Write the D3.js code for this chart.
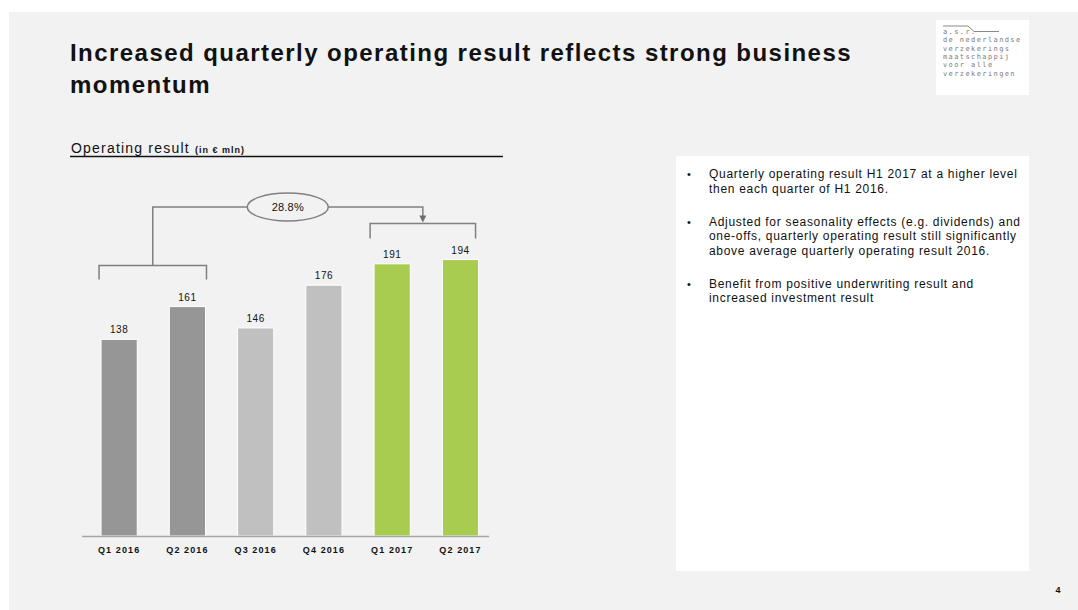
<!DOCTYPE html>
<html>
<head>
<meta charset="utf-8">
<script src="https://cdn.jsdelivr.net/npm/d3@7"></script>
<style>
  html, body { margin: 0; padding: 0; background: #ffffff; }
  svg { display: block; font-family: "Liberation Sans", Arial, sans-serif; }
</style>
</head>
<body>
<svg id="slide" width="1078" height="610"></svg>
<script>
// Quarterly operating result, € mln
const quarters = ["Q1 2016", "Q2 2016", "Q3 2016", "Q4 2016", "Q1 2017", "Q2 2017"];
const operatingResult = [138, 161, 146, 176, 191, 194];
const barGroup = ["h1-2016", "h1-2016", "h2-2016", "h2-2016", "h1-2017", "h1-2017"];
const growthLabel = "28.8%";

const titleLines = [
  "Increased quarterly operating result reflects strong business",
  "momentum"
];
const bulletParagraphs = [
  ["Quarterly operating result H1 2017 at a higher level", "then each quarter of H1 2016."],
  ["Adjusted for seasonality effects (e.g. dividends) and", "one-offs, quarterly operating result still significantly", "above average quarterly operating result 2016."],
  ["Benefit from positive underwriting result and", "increased investment result"]
];
const logoLines = ["a.s.r.", "de nederlandse", "verzekerings", "maatschappij", "voor alle", "verzekeringen"];

const svg = d3.select("#slide");

// slide background
svg.append("rect").attr("x", 9).attr("y", 12).attr("width", 1069).attr("height", 598).attr("fill", "#f2f2f2");

// title
const title = svg.append("g");
title.selectAll("text").data(titleLines).join("text")
  .attr("x", 70).attr("y", (d, i) => 61 + i * 32)
  .attr("font-size", 24).attr("font-weight", "bold").attr("fill", "#111")
  .attr("letter-spacing", 1.45)
  .text(d => d);

// logo block
const logo = svg.append("g");
logo.append("rect").attr("x", 936).attr("y", 20).attr("width", 93).attr("height", 75).attr("fill", "#ffffff");
logo.append("path").attr("d", "M943,26 H968 L974,31.5 H999").attr("fill", "none").attr("stroke", "#8a8a8a").attr("stroke-width", 1);
logo.selectAll("text").data(logoLines).join("text")
  .attr("x", 943).attr("y", (d, i) => 34 + i * 8.3)
  .style("font-family", "'DejaVu Sans Mono', monospace").attr("font-size", 7)
  .attr("letter-spacing", 1.4)
  .attr("fill", "#7a7a7a")
  .text(d => d);

// chart heading with rule
svg.append("text").attr("x", 71).attr("y", 153).attr("font-size", 14).attr("fill", "#111")
  .attr("letter-spacing", 1.2)
  .text("Operating result ")
  .append("tspan").attr("font-size", 9).attr("font-weight", "bold").attr("letter-spacing", 1).text("(in € mln)");
svg.append("line").attr("x1", 70).attr("x2", 503).attr("y1", 156.5).attr("y2", 156.5)
  .attr("stroke", "#111").attr("stroke-width", 1.5);

// scales
const x = d3.scaleBand().domain(quarters).range([85, 494.6]).paddingInner(0.47).paddingOuter(0.235);
const y = d3.scaleLinear().domain([0, 200]).range([536, 251]);
const fillFor = { "h1-2016": "#969696", "h2-2016": "#c0c0c0", "h1-2017": "#a8cc50" };

const chart = svg.append("g");
const data = quarters.map((q, i) => ({ q, v: operatingResult[i], g: barGroup[i] }));

chart.selectAll("rect.bar").data(data).join("rect")
  .attr("class", "bar")
  .attr("x", d => x(d.q)).attr("width", x.bandwidth())
  .attr("y", d => y(d.v)).attr("height", d => y(0) - y(d.v))
  .attr("fill", d => fillFor[d.g])
  .attr("stroke", "#ffffff").attr("stroke-width", 1);

chart.selectAll("text.val").data(data).join("text")
  .attr("class", "val")
  .attr("x", d => x(d.q) + x.bandwidth() / 2).attr("y", d => y(d.v) - 6)
  .attr("text-anchor", "middle").attr("font-size", 10).attr("fill", "#111")
  .attr("letter-spacing", 0.5)
  .text(d => d.v);

// category axis
const axis = chart.append("g").attr("transform", `translate(0,${y(0) + 0.5})`)
  .call(d3.axisBottom(x).tickSize(0).tickPadding(10));
axis.select(".domain").attr("d", "M82,0H489").attr("stroke", "#a6a6a6").attr("stroke-width", 1.5);
axis.selectAll(".tick text").attr("font-size", 9).attr("font-weight", "bold").attr("fill", "#111")
  .attr("font-family", "'Liberation Sans', Arial, sans-serif").attr("letter-spacing", 1.1);

// growth brackets: H1 2016 quarters vs H1 2017 quarters
const bStroke = "#808080";
const leftL = x(quarters[0]) - 2, leftR = x(quarters[1]) + x.bandwidth() + 1;
const rightL = x(quarters[4]) - 4, rightR = x(quarters[5]) + x.bandwidth() - 3;
const leftY = y(d3.max(operatingResult.slice(0, 2))) - 41;
const rightY = y(d3.max(operatingResult.slice(4, 6))) - 36;
const midL = (leftL + leftR) / 2, midR = (rightL + rightR) / 2;
const topY = 207;
const ex = (midL + midR) / 2, rx = 40.5, ry = 14;

const br = chart.append("g").attr("fill", "none").attr("stroke", bStroke).attr("stroke-width", 1.5);
br.append("path").attr("d", `M${leftL},${leftY + 14} V${leftY} H${leftR} V${leftY + 14}`);
br.append("path").attr("d", `M${rightL},${rightY + 15} V${rightY} H${rightR} V${rightY + 15}`);
br.append("path").attr("d", `M${midL},${leftY} V${topY} H${ex - rx}`);
br.append("path").attr("d", `M${ex + rx},${topY} H${midR} V${rightY - 7}`);
chart.append("path").attr("d", `M${midR - 3.5},${rightY - 8} L${midR + 3.5},${rightY - 8} L${midR},${rightY - 1} Z`)
  .attr("fill", "#6e6e6e");
chart.append("ellipse").attr("cx", ex).attr("cy", topY).attr("rx", rx).attr("ry", ry)
  .attr("fill", "#f2f2f2").attr("stroke", bStroke).attr("stroke-width", 1.5);
chart.append("text").attr("x", ex).attr("y", topY + 4).attr("text-anchor", "middle")
  .attr("font-size", 11).attr("fill", "#111").attr("letter-spacing", 0.2).text(growthLabel);

// commentary panel
const panel = svg.append("g");
panel.append("rect").attr("x", 676).attr("y", 156).attr("width", 353).attr("height", 415).attr("fill", "#ffffff");
let lineY = 178;
bulletParagraphs.forEach(par => {
  panel.append("text").attr("x", 687).attr("y", lineY).attr("font-size", 11).attr("fill", "#111").text("•");
  par.forEach((ln, j) => {
    panel.append("text").attr("x", 709).attr("y", lineY + j * 14.5)
      .attr("font-size", 12).attr("fill", "#111").attr("letter-spacing", 0.7)
      .text(ln);
  });
  lineY += par.length * 14.5 + 18.5;
});

// page number
svg.append("text").attr("x", 1058).attr("y", 593).attr("text-anchor", "middle")
  .attr("font-size", 9).attr("font-weight", "bold").attr("fill", "#111").text("4");
</script>
</body>
</html>
